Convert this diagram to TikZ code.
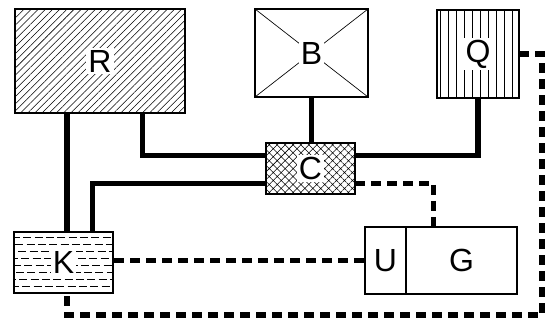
\documentclass[tikz,border=0pt]{standalone}
\usepackage{fontspec}
\setmainfont{Liberation Sans}
\usetikzlibrary{patterns.meta}

\newcommand{\lbl}[1]{{\setlength{\fboxsep}{1.5pt}\colorbox{white}{#1}}}

\begin{document}
\begin{tikzpicture}[x=0.75pt, y=-0.75pt, font=\fontsize{24}{24}\selectfont,
                      blk/.style={draw, line width=2.2pt, inner sep=0pt},
                      ln/.style={line width=3.8pt},
                      dl/.style={line width=3.8pt, dash pattern=on 7.5pt off 4.5pt}]
    \useasboundingbox (0,0) rectangle (552,327);
    % boxes
    \node[blk, minimum width=127.5pt, minimum height=78pt,
          pattern={Lines[angle=45, distance=3.8pt, line width=0.4pt]}] (R) at (100,61) {\lbl{R}};
    \node[blk, minimum width=84.75pt, minimum height=66pt,
          path picture={\draw[line width=0.5pt] (path picture bounding box.south west) -- (path picture bounding box.north east);
                        \draw[line width=0.5pt] (path picture bounding box.north west) -- (path picture bounding box.south east);}]
          (B) at (311.5,53) {\lbl{B}};
    \node[blk, minimum width=61.5pt, minimum height=66pt,
          pattern={Lines[angle=90, distance=6pt, line width=0.4pt]}] (Q) at (478,54) {\lbl{Q}};
    \node[blk, minimum width=66.75pt, minimum height=38.25pt,
          pattern={Hatch[angle=45, distance=4.2pt, line width=0.4pt]}] (C) at (310.5,168.5) {\lbl{C}};
    \node[blk, minimum width=74.25pt, minimum height=45.75pt,
          path picture={\foreach \k in {1,...,8}
                          \draw[line width=0.4pt, dash pattern=on 6pt off 2.5pt, dash phase=\k*2.3pt]
                            ([yshift=\k*5.2pt]path picture bounding box.south west) -- ++(80pt,0);}]
          (K) at (63.5,262.5) {\lbl{K}};
    \node[blk, minimum width=30.75pt, minimum height=50.25pt] (U) at (385.5,260.5) {U};
    \node[blk, minimum width=83.25pt, minimum height=50.25pt] (G) at (461.5,260.5) {G};
    \coordinate (corner) at (542,315);
    % solid lines
    \draw[ln] ([xshift=32pt]R.south) |- ([yshift=10pt]C.west);
    \draw[ln] (B.south) -- (B.south |- C.north);
    \draw[ln] (Q.south) |- ([yshift=10pt]C.east);
    \draw[ln] ([xshift=-24.75pt]R.south) -- ([xshift=-24.75pt]R.south |- K.north);
    \draw[ln] ([xshift=22pt]K.north) |- ([yshift=-11pt]C.west);
    % dashed lines
    \draw[dl] ([yshift=-11pt]C.east) -| ([xshift=-21pt]G.north);
    \draw[dl] (U.west) -- (U.west -| K.east);
    \draw[dl] (Q.east) -| (corner) -| ([xshift=2.6pt]K.south);
\end{tikzpicture}
\end{document}
